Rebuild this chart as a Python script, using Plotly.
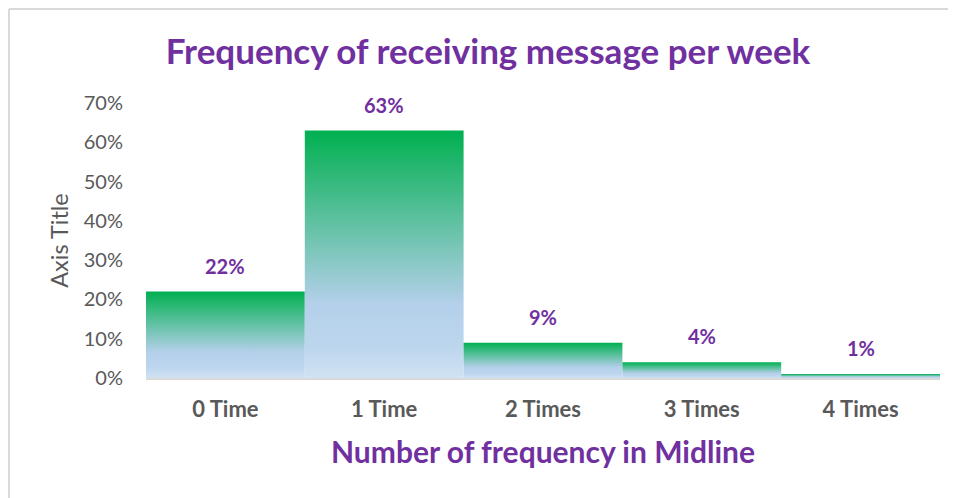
import plotly.graph_objects as go

categories = ["0 Time", "1 Time", "2 Times", "3 Times", "4 Times"]
values = [0.22, 0.63, 0.09, 0.04, 0.01]
value_labels = ["22%", "63%", "9%", "4%", "1%"]
y_tick_vals = [0, 0.1, 0.2, 0.3, 0.4, 0.5, 0.6, 0.7]
y_tick_text = ["0%", "10%", "20%", "30%", "40%", "50%", "60%", "70%"]

# The page has an 8px body margin, so the figure is 8px smaller than the window.
W, H = 948, 490
L, R, T, B = 138, 16, 95, 120
PURPLE = "#7030A0"
GRAY = "#595959"
FONT = "Lato"

grad = [[0.0, "#D0E2F3"], [0.12, "#BDD6EE"], [0.3, "#B4D0EA"], [1.0, "#00B050"]]

fig = go.Figure()
for i, (c, v) in enumerate(zip(categories, values)):
    fig.add_trace(go.Scatter(
        x=[i - 0.5, i - 0.5, i + 0.5, i + 0.5, i - 0.5],
        y=[0, v, v, 0, 0],
        mode="lines",
        line=dict(width=0),
        fill="toself",
        fillgradient=dict(type="vertical", colorscale=grad),
        name=c,
        hoverinfo="skip",
        showlegend=False,
    ))

for i, (v, lab) in enumerate(zip(values, value_labels)):
    fig.add_annotation(x=i, y=v, text=lab, showarrow=False, xanchor="center",
                       yanchor="bottom", yshift=12,
                       font=dict(family=FONT, size=20, color=PURPLE, weight="bold"))

def px_to_paper_x(px):
    return (px - L) / (W - L - R)

def px_to_paper_y(py):
    return (H - B - py) / (H - T - B)

border = dict(color="#D9D9D9", width=2)
fig.add_shape(type="line", xref="paper", yref="paper",
              x0=px_to_paper_x(1), x1=px_to_paper_x(W + 2),
              y0=px_to_paper_y(1), y1=px_to_paper_y(1), line=border)
fig.add_shape(type="line", xref="paper", yref="paper",
              x0=px_to_paper_x(1), x1=px_to_paper_x(1),
              y0=px_to_paper_y(1), y1=px_to_paper_y(H + 2), line=border)

fig.update_layout(
    width=W, height=H,
    margin=dict(l=L, r=R, t=T, b=B, pad=0),
    paper_bgcolor="white", plot_bgcolor="white",
    title=dict(text="Frequency of receiving message per week",
               x=480 / W, xref="container", xanchor="center",
               y=1 - 44 / H, yref="container", yanchor="middle",
               font=dict(family=FONT, size=35, color=PURPLE, weight="bold")),
    xaxis=dict(range=[-0.5, 4.5], tickvals=list(range(len(categories))),
               ticktext=categories, showgrid=False, zeroline=False,
               showline=True, linecolor="#D9D9D9", linewidth=1.5,
               ticks="", ticklabelstandoff=11,
               tickfont=dict(family=FONT, size=22, color=GRAY, weight="bold"),
               title=dict(text="Number of frequency in Midline", standoff=21,
                          font=dict(family=FONT, size=30, color=PURPLE, weight="bold")),
               fixedrange=True),
    yaxis=dict(range=[0, 0.7], tickvals=y_tick_vals, ticktext=y_tick_text,
               showgrid=False, zeroline=False, showline=False, ticks="",
               ticklabelstandoff=22,
               tickfont=dict(family=FONT, size=20, color=GRAY),
               title=dict(text="Axis Title", standoff=8,
                          font=dict(family=FONT, size=23.5, color=GRAY)),
               fixedrange=True),
)

fig.write_html("out.html")
